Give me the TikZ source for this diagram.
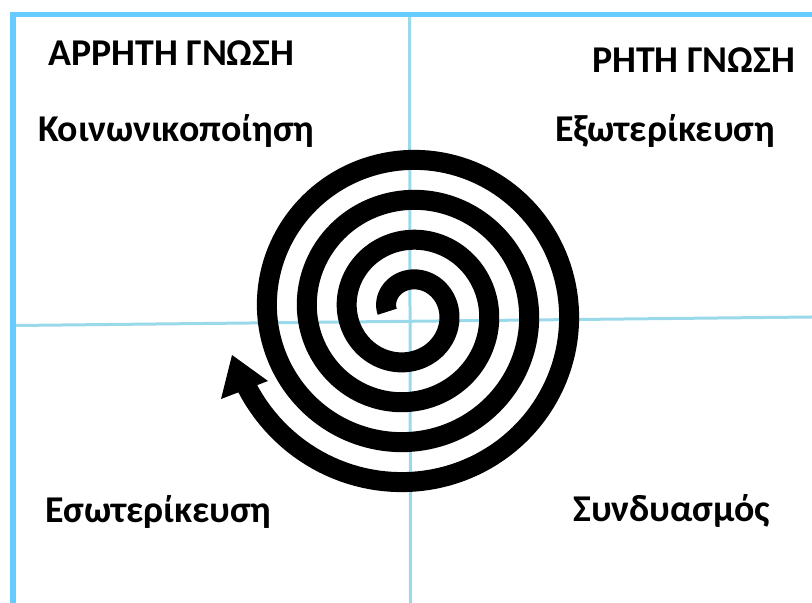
\documentclass[tikz,border=0pt]{standalone}
\usepackage{fontspec}
\setmainfont{Carlito}
\definecolor{frameBlue}{RGB}{102,204,255}
\definecolor{axisBlue}{RGB}{153,217,234}
\begin{document}
\begin{tikzpicture}[x=1bp,y=1bp,
    frameLine/.style={frameBlue,line width=5.5bp},
    axisLine/.style={axisBlue,line width=3bp},
    spiralLine/.style={line width=20bp,black,line cap=butt,line join=round},
    quadLabel/.style={font=\fontsize{38}{42}\selectfont\bfseries,inner sep=0pt,anchor=base west},
]
\useasboundingbox (0,0) rectangle (812,603);
% frame and axes
\draw[frameLine] (10,588.5) -- (812,588.5);
\draw[frameLine] (13,591) -- (13,0);
\draw[axisLine] (409.5,586) -- (410.5,0);
\draw[axisLine] (16,277.5) -- (812,286);
% spiral
\draw[spiralLine] plot[domain=182:-1237,samples=600]
    ({408+(51+(-90-\x)/9)*cos(\x)},{292+(51+(-90-\x)/9)*sin(\x)})
    -- (244.5,213.5);
% arrow head
\coordinate (tipA) at (232,248);
\coordinate (barbL) at (221,204);
\coordinate (barbR) at (268,222);
\fill (tipA) -- (barbL) -- (barbR) -- cycle;
% labels
\node[quadLabel] (arrhti) at (48,537) {ΑΡΡΗΤΗ ΓΝΩΣΗ};
\node[quadLabel] (rhti) at (592,530) {ΡΗΤΗ ΓΝΩΣΗ};
\node[quadLabel] (koin) at (38,461) {Κοινωνικοποίηση};
\node[quadLabel] (exot) at (555,461) {Εξωτερίκευση};
\node[quadLabel] (esot) at (45,80) {Εσωτερίκευση};
\node[quadLabel] (synd) at (573,81) {Συνδυασμός};
\end{tikzpicture}
\end{document}
